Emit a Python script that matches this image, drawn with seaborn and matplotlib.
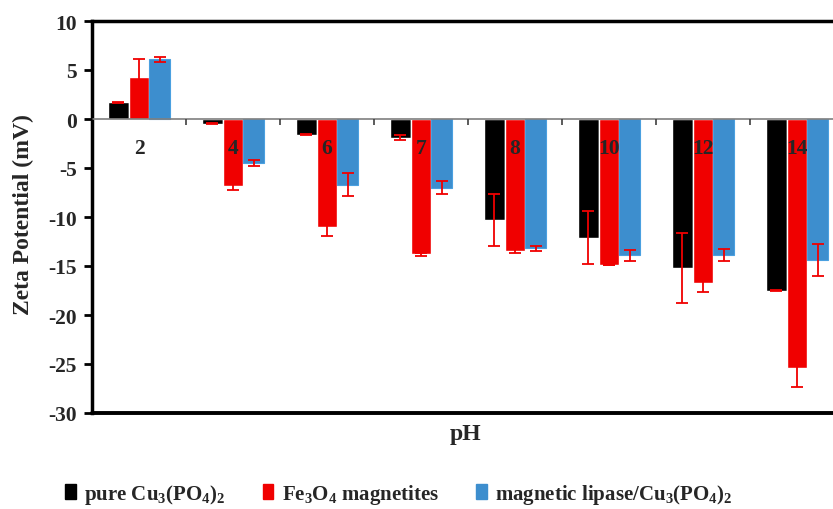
import numpy as np
import pandas as pd
import matplotlib
matplotlib.use("Agg")
import matplotlib.pyplot as plt
import seaborn as sns

# data
ph_labels = ["2", "4", "6", "7", "8", "10", "12", "14"]
pure_cu = [1.7, -0.5, -1.6, -1.9, -10.3, -12.1, -15.2, -17.5]
pure_cu_err = [0.05, 0.05, 0.05, 0.27, 2.65, 2.7, 3.55, 0.05]
fe3o4 = [4.3, -6.8, -11.0, -13.8, -13.5, -14.9, -16.7, -25.4]
fe3o4_err = [1.8, 0.4, 0.9, 0.15, 0.2, 0.0, 0.95, 1.95]
lipase = [6.1, -4.5, -6.7, -7.0, -13.2, -13.9, -13.9, -14.4]
lipase_err = [0.25, 0.3, 1.2, 0.65, 0.25, 0.55, 0.6, 1.6]

series = [r"pure Cu$_3$(PO$_4$)$_2$", r"Fe$_3$O$_4$ magnetites",
          r"magnetic lipase/Cu$_3$(PO$_4$)$_2$"]
colors = ["#000000", "#f00000", "#3d8ece"]

df = pd.DataFrame({
    "pH": ph_labels * 3,
    "zeta": pure_cu + fe3o4 + lipase,
    "sample": [s for s in series for _ in ph_labels],
})
errs = [pure_cu_err, fe3o4_err, lipase_err]

sns.set_style("white")
plt.rcParams["font.family"] = ["Liberation Serif", "DejaVu Serif"]
plt.rcParams["font.weight"] = "bold"
plt.rcParams["mathtext.fontset"] = "custom"
plt.rcParams["mathtext.rm"] = "Liberation Serif:bold"
plt.rcParams["mathtext.default"] = "regular"
plt.rcParams["axes.unicode_minus"] = False

fig = plt.figure(figsize=(8.33, 5.10), dpi=100)
ax = fig.add_axes([92 / 833, 96 / 510, 752 / 833, 392 / 510])

sns.barplot(data=df, x="pH", y="zeta", hue="sample", palette=colors,
            saturation=1, width=0.67, errorbar=None, ax=ax, legend=False)

bar_groups = list(ax.containers)
for i, cont in enumerate(bar_groups):
    xs = [b.get_x() + b.get_width() / 2 for b in cont]
    ys = [b.get_height() for b in cont]
    for b in cont:
        b.set_zorder(1)
    ax.errorbar(xs, ys, yerr=errs[i], fmt="none", ecolor="#f00000",
                elinewidth=1.3, capsize=4.5, capthick=1.3, zorder=2)
    if i == 2:
        for b in cont:
            b.set_edgecolor("#4aa0e0")
            b.set_linewidth(0.8)

ax.set_axisbelow(False)
ax.set_ylim(-30, 10)
ax.set_xlim(-0.5, 7.5)
ax.set_yticks(np.arange(-30, 11, 5))
ax.tick_params(axis="y", which="major", direction="out", length=6, width=2,
               color="black", labelsize=15.5, pad=5, left=True)

# category axis crossing at zero
ax.spines["bottom"].set_position(("data", 0))
ax.spines["bottom"].set_color("#7f7f7f")
ax.spines["bottom"].set_linewidth(1.2)
for s in ["left", "top", "right"]:
    ax.spines[s].set_linewidth(2.5)
    ax.spines[s].set_color("black")
ax.axhline(-30, color="black", lw=2.8, clip_on=False, zorder=3)

ax.set_xticks(np.arange(0.5, 8, 1))
ax.set_xticklabels([])
ax.set_xticks(np.arange(8), minor=True)
ax.set_xticklabels(ph_labels, minor=True)
ax.tick_params(axis="x", which="major", direction="out", length=4, width=1.2,
               color="#404040", bottom=True)
ax.tick_params(axis="x", which="minor", length=0, pad=14, labelsize=15.5)

ax.set_xlabel("")
ax.set_ylabel("Zeta Potential (mV)", fontsize=17, fontweight="bold")
ax.yaxis.set_label_coords(-0.077, 0.51)
fig.text(466 / 833, 1 - 435 / 510, "pH", ha="center", va="center",
         fontsize=17, fontweight="bold")

handles = [plt.Rectangle((0, 0), 1, 1, color=c) for c in colors]
fig.legend(handles, series, loc="center", bbox_to_anchor=(0.479, 0.03), ncol=3,
           frameon=False, fontsize=15, handlelength=0.5, handleheight=0.7,
           handletextpad=0.4, columnspacing=1.8)

fig.savefig("out.png", dpi=100)
